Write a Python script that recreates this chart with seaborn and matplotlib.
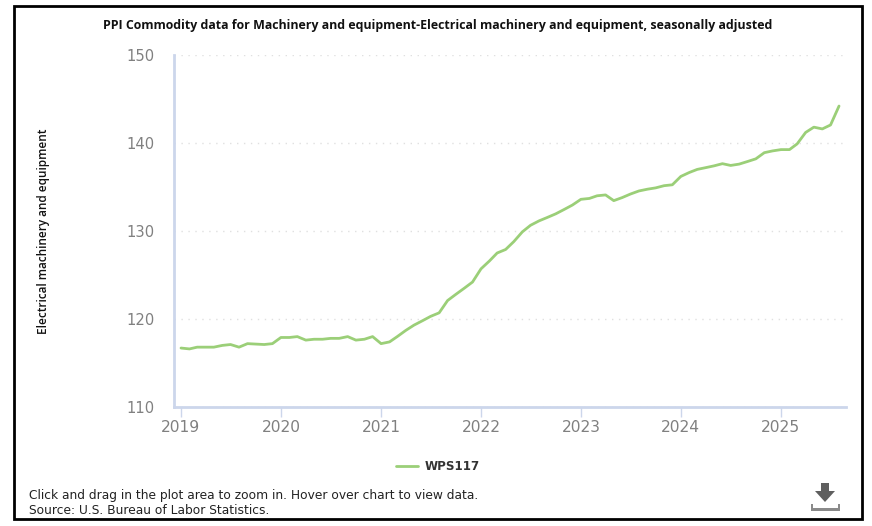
import matplotlib
matplotlib.use("Agg")
import matplotlib.pyplot as plt
import matplotlib.dates as mdates
from matplotlib.patches import Rectangle, Polygon
import pandas as pd
import seaborn as sns

# Values, Jan 2019 - Aug 2025
values_2019 = [116.7, 116.6, 116.8, 116.8, 116.8, 117.0, 117.1, 116.8, 117.2, 117.15, 117.1, 117.2]
values_2020 = [117.9, 117.9, 118.0, 117.6, 117.7, 117.7, 117.8, 117.8, 118.0, 117.6, 117.7, 118.0]
values_2021 = [117.2, 117.4, 118.0, 118.7, 119.3, 119.8, 120.3, 120.7, 122.1, 122.8, 123.5, 124.2]
values_2022 = [125.7, 126.6, 127.5, 127.9, 128.8, 129.9, 130.65, 131.15, 131.55, 131.95, 132.45, 132.95]
values_2023 = [133.6, 133.7, 134.0, 134.1, 133.45, 133.8, 134.2, 134.55, 134.75, 134.9, 135.15, 135.25]
values_2024 = [136.2, 136.65, 137.0, 137.2, 137.4, 137.65, 137.45, 137.6, 137.9, 138.2, 138.9, 139.1]
values_2025 = [139.25, 139.25, 139.9, 141.2, 141.8, 141.6, 142.05, 144.2]

series_name = "WPS117"
title = "PPI Commodity data for Machinery and equipment-Electrical machinery and equipment, seasonally adjusted"
y_label = "Electrical machinery and equipment"
y_ticks = [110, 120, 130, 140, 150]
x_years = [2019, 2020, 2021, 2022, 2023, 2024, 2025]

values = values_2019 + values_2020 + values_2021 + values_2022 + values_2023 + values_2024 + values_2025
df = pd.DataFrame({
    "date": pd.date_range("2019-01-01", periods=len(values), freq="MS"),
    "value": values,
})

sns.set_theme(style="white")
plt.rcParams["font.family"] = ["Open Sans", "DejaVu Sans"]

W, H = 872, 526
fig = plt.figure(figsize=(W / 100, H / 100), dpi=100)
ax = fig.add_axes([174 / W, 1 - 407 / H, (846 - 174) / W, (407 - 55) / H])

sns.lineplot(data=df, x="date", y="value", color="#9bcf78", linewidth=2.0, ax=ax, legend=False)

# 2019-01-01 sits at x=181px, one year is about 100px
day_px = 600 / 2192
start = pd.Timestamp("2019-01-01")
ax.set_xlim(start - pd.Timedelta(days=7 / day_px), start + pd.Timedelta(days=665 / day_px))
ax.set_ylim(110, 150)

ax.set_yticks(y_ticks)
ax.set_xticks([pd.Timestamp(f"{y}-01-01") for y in x_years])
ax.xaxis.set_major_formatter(mdates.DateFormatter("%Y"))
ax.tick_params(axis="y", length=0, pad=14, labelsize=10.6, labelcolor="#808080")
ax.tick_params(axis="x", length=7, width=1, color="#ccd6eb", pad=2, labelsize=11.2, labelcolor="#808080", bottom=True)
for lab in ax.get_xticklabels() + ax.get_yticklabels():
    lab.set_fontfamily("DejaVu Sans")
ax.set_xlabel("")
ax.set_ylabel("")

ax.grid(axis="y", color="#e0e0e0", linestyle=(0, (1, 4)), linewidth=1)
ax.grid(axis="x", visible=False)
ax.set_axisbelow(True)
sns.despine(ax=ax)
for side in ["left", "bottom"]:
    ax.spines[side].set_color("#ccd6eb")
    ax.spines[side].set_linewidth(2)

def px(x, y):
    return x / W, 1 - y / H

fig.text(*px(438, 25), title, ha="center", va="center", fontsize=8.93, fontweight="bold", color="#111111")
fig.text(*px(43, 231), y_label, rotation=90, ha="center", va="center", fontsize=8.5, fontweight="semibold", color="#111111")

# legend
fig.add_artist(plt.Line2D([396 / W, 418 / W], [1 - 466 / H] * 2, color="#9bcf78", linewidth=2.0))
fig.text(*px(425, 466), series_name, ha="left", va="center", fontsize=8.6, fontweight="semibold",
         family="DejaVu Sans", color="#333333")

fig.text(*px(29, 496), "Click and drag in the plot area to zoom in. Hover over chart to view data.",
         ha="left", va="center", fontsize=8.83, family="DejaVu Sans", color="#222222")
fig.text(*px(29, 510), "Source: U.S. Bureau of Labor Statistics.",
         ha="left", va="center", fontsize=8.83, family="DejaVu Sans", color="#222222")

# download icon
icon = "#5f5f5f"
fig.add_artist(Polygon([px(821, 483), px(829, 483), px(829, 491), px(835, 491), px(825, 502), px(815, 491), px(821, 491)],
                       closed=True, facecolor=icon, edgecolor="none", transform=fig.transFigure))
fig.add_artist(Polygon([px(811, 504), px(813, 504), px(813, 508), px(838, 508), px(838, 504), px(840, 504), px(840, 511), px(811, 511)],
                       closed=True, facecolor="#8a8a8a", edgecolor="none", transform=fig.transFigure))

# black frame round the screenshot
fig.add_artist(Rectangle(px(14, 519), (862 - 14) / W, (519 - 6) / H, fill=False, edgecolor="black",
                         linewidth=2, transform=fig.transFigure))

fig.savefig("out.png", dpi=100)
